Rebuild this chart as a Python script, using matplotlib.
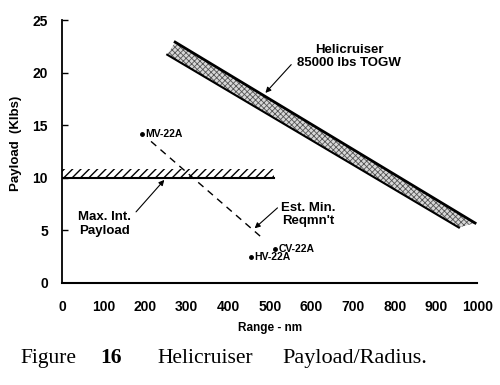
import matplotlib
matplotlib.use("Agg")
import matplotlib.pyplot as plt
from matplotlib.patches import Polygon, Rectangle

# ---- data ----
band_range = [272, 993, 954, 253]          # Helicruiser band corners (nm)
band_payload = [22.9, 5.7, 5.27, 21.7]     # Klbs
maxint_range = [0, 510]
maxint_payload = [10.0, 10.86]
est_range = [214, 482]
est_payload = [13.46, 4.26]
aircraft_names = ["MV-22A", "HV-22A", "CV-22A"]
aircraft_range = [193, 455, 513]
aircraft_payload = [14.2, 2.45, 3.24]
xticks = [0, 100, 200, 300, 400, 500, 600, 700, 800, 900, 1000]
yticks = [0, 5, 10, 15, 20, 25]

plt.rcParams['font.family'] = ['Liberation Sans', 'DejaVu Sans']
plt.rcParams['hatch.linewidth'] = 0.6

fig = plt.figure(figsize=(5.0, 3.85), dpi=100)
ax = fig.add_axes([0.124, 0.265, 0.832, 0.683])
ax.set_xlim(0, 1000)
ax.set_ylim(0, 25)

# Helicruiser band
poly = Polygon(list(zip(band_range, band_payload)), closed=True,
               facecolor='#d8d8d8', edgecolor='#555555', hatch='xxxxxx', lw=0)
ax.add_patch(poly)
ax.plot(band_range[:2], band_payload[:2], color='black', lw=2.0)
ax.plot([band_range[3], band_range[2]], [band_payload[3], band_payload[2]],
        color='black', lw=1.5)

# Max int payload hatched bar
plt.rcParams['hatch.linewidth'] = 1.0
rect = Rectangle((maxint_range[0], maxint_payload[0]),
                 maxint_range[1] - maxint_range[0],
                 maxint_payload[1] - maxint_payload[0],
                 facecolor='white', edgecolor='black', hatch='////', lw=0)
ax.add_patch(rect)
ax.plot(maxint_range, [maxint_payload[0]] * 2, color='black', lw=1.5)

# Est. min requirement dashed line
ax.plot(est_range, est_payload, color='black', lw=1.0, ls=(0, (5, 4)))

# aircraft points
ax.plot(aircraft_range, aircraft_payload, 'o', color='black', ms=2.5)
bold = dict(fontweight='bold', fontsize=7.5, va='center', ha='left')
for n, r, p in zip(aircraft_names, aircraft_range, aircraft_payload):
    ax.text(r + 8, p, n, **bold)

# annotations
ann = dict(fontweight='bold', fontsize=9.5, ha='center', va='center',
           linespacing=1.15)
arrow = dict(arrowstyle='-|>', color='black', lw=0.8, mutation_scale=8,
             shrinkA=0, shrinkB=0)
ax.text(690, 21.55, "Helicruiser\n85000 lbs TOGW", **ann)
ax.annotate("", xy=(489, 18.07), xytext=(551, 20.76), arrowprops=arrow)
ax.text(103, 5.6, "Max. Int.\nPayload", **ann)
ax.annotate("", xy=(246, 9.8), xytext=(178, 6.76), arrowprops=arrow)
ax.text(592, 6.5, "Est. Min.\nReqmn't", **ann)
ax.annotate("", xy=(463, 5.2), xytext=(518, 7.14), arrowprops=arrow)

# axes styling
for s in ['top', 'right']:
    ax.spines[s].set_visible(False)
ax.spines['left'].set_linewidth(1.3)
ax.spines['bottom'].set_linewidth(1.5)
ax.spines['bottom'].set_bounds(0, 997)
ax.set_xticks(xticks)
ax.set_yticks(yticks)
ax.tick_params(axis='x', length=0, pad=12, labelsize=10)
ax.tick_params(axis='y', direction='in', length=4, width=1, pad=10, labelsize=10)
for lab in ax.get_xticklabels() + ax.get_yticklabels():
    lab.set_fontweight('bold')
ax.yaxis.get_major_ticks()[0].tick1line.set_visible(False)

ax.set_xlabel("Range - nm", fontweight='bold', fontsize=8.5, labelpad=6)
ax.set_ylabel("Payload  (Klbs)", fontweight='bold', fontsize=9.5, labelpad=8)
ax.yaxis.set_label_coords(-0.095, 0.53)

# caption
cap_y = 1 - 363 / 385
serif = ['Liberation Serif', 'DejaVu Serif']
fig.text(20 / 500, cap_y, "Figure", family=serif, fontsize=15.5, va='baseline')
fig.text(100 / 500, cap_y, "16", family=serif, fontsize=15.5, fontweight='bold',
         va='baseline')
fig.text(157 / 500, cap_y, "Helicruiser", family=serif, fontsize=15.5, va='baseline')
fig.text(282 / 500, cap_y, "Payload/Radius.", family=serif, fontsize=16,
         va='baseline')

fig.savefig("out.png", dpi=100)
